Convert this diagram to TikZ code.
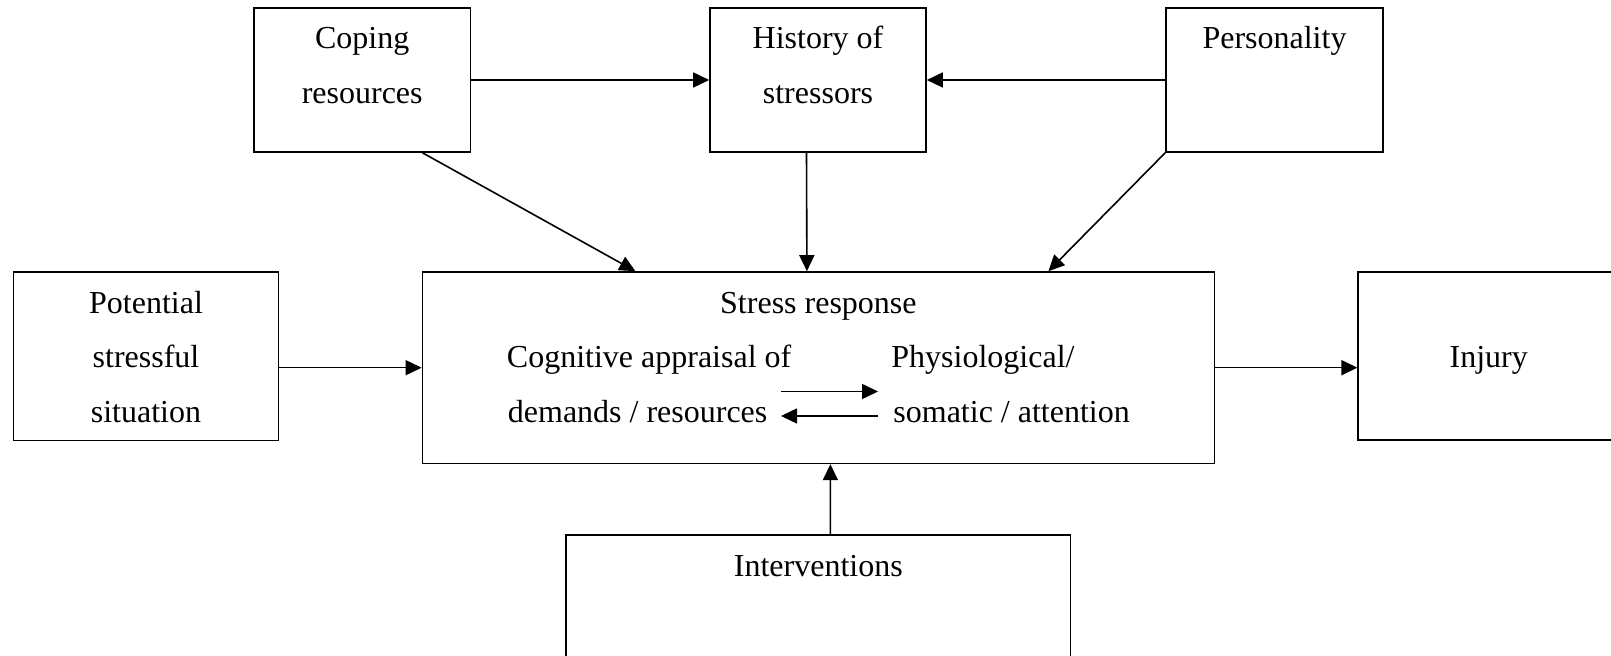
\documentclass[tikz,border=0pt]{standalone}
\usepackage{fontspec}
\setmainfont{Liberation Serif}
\usetikzlibrary{arrows.meta}
\begin{document}
\begin{tikzpicture}[x=0.5pt,y=-0.5pt,
  box/.style={draw,line width=0.8pt,rectangle,inner sep=0pt},
  lbl/.style={inner sep=0pt,anchor=base,font=\fontsize{16}{19}\selectfont},
  lblw/.style={lbl,anchor=base west},
  arr/.style={line width=0.8pt,-{Triangle[length=8pt,width=7.5pt]}}]
\useasboundingbox (0,0) rectangle (1611,656);
\clip (0,0) rectangle (1611,656);
% boxes
\node[box,minimum width=108.4pt,minimum height=72pt] (coping) at (362.2,80) {};
\node[box,minimum width=108pt,minimum height=72pt] (history) at (818,80) {};
\node[box,minimum width=108.5pt,minimum height=72pt] (personality) at (1274.5,80) {};
\node[box,minimum width=132.5pt,minimum height=84.2pt] (potential) at (146,356.5) {};
\node[box,minimum width=396pt,minimum height=95.7pt] (stress) at (818.4,367.7) {};
\node[box,minimum width=130.5pt,minimum height=84pt] (injury) at (1488.7,356) {};
\node[box,minimum width=252.3pt,minimum height=75pt] (interventions) at (818.3,610.3) {};
% texts
\node[lbl] (t1) at (362.2,48.5) {Coping};
\node[lbl] (t2) at (362.2,104) {resources};
\node[lbl] (t3) at (818,48.5) {History of};
\node[lbl] (t4) at (818,104) {stressors};
\node[lbl] (t5) at (1274.5,48.5) {Personality};
\node[lbl] (t6) at (146,313.5) {Potential};
\node[lbl] (t7) at (146,368) {stressful};
\node[lbl] (t8) at (146,422.5) {situation};
\node[lbl] (t9) at (818.4,313.5) {Stress response};
\node[lblw] (t10) at (506.5,368) {Cognitive appraisal of};
\node[lblw] (t11) at (507.5,422.5) {demands / resources};
\node[lblw] (t12) at (891,368) {Physiological/};
\node[lblw] (t13) at (893,422.5) {somatic / attention};
\node[lbl] (t14) at (1488.7,368) {Injury};
\node[lbl] (t15) at (818.3,576.5) {Interventions};
% internal arrows
\coordinate (ia1) at (781,391.5);
\coordinate (ia2) at (878,391.5);
\coordinate (ib1) at (878,416);
\coordinate (ib2) at (781,416);
\draw[arr] (ia1) -- (ia2);
\draw[arr] (ib1) -- (ib2);
% connectors
\draw[arr] (coping.east) -- (history.west);
\draw[arr] (personality.west) -- (history.east);
\draw[arr] ([xshift=30.15pt]coping.south) -- ([xshift=-91.5pt]stress.north);
\draw[arr] ([xshift=-5.75pt]history.south) -- ([xshift=-5.75pt]stress.north);
\draw[arr] (personality.south west) -- ([xshift=115pt]stress.north);
\draw[arr] (potential.east |- stress.west) -- (stress.west);
\draw[arr] (stress.east) -- (stress.east -| injury.west);
\draw[arr] ([xshift=6pt]interventions.north) -- ([xshift=6pt]stress.south);
\end{tikzpicture}
\end{document}
